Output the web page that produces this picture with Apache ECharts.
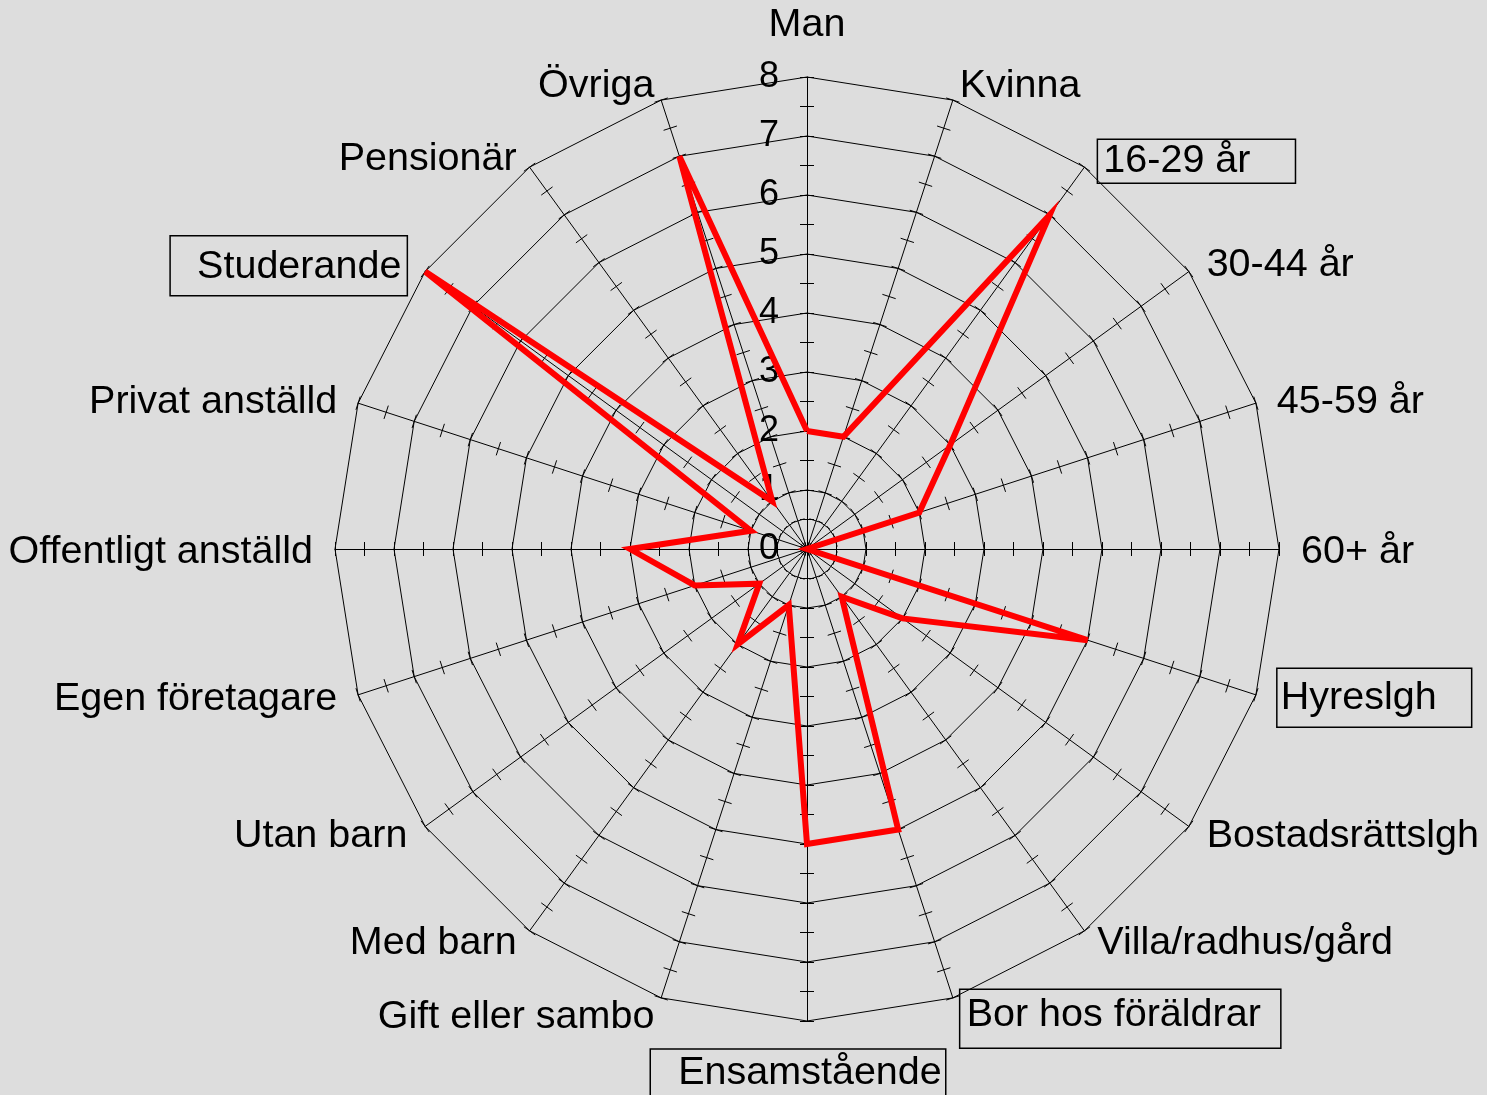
<!DOCTYPE html>
<html><head><meta charset="utf-8">
<script src="https://cdn.jsdelivr.net/npm/echarts@6/dist/echarts.min.js"></script>
<style>html,body{margin:0;padding:0;background:#dddddd}#c{width:1487px;height:1095px}</style>
</head><body><div id="c"></div><script>
// Categories clockwise from the top
const categories = ['Man','Kvinna','16-29 år','30-44 år','45-59 år','60+ år','Hyreslgh','Bostadsrättslgh','Villa/radhus/gård','Bor hos föräldrar','Ensamstående','Gift eller sambo','Med barn','Utan barn','Egen företagare','Offentligt anställd','Privat anställd','Studerande','Pensionär','Övriga'];
const values = [2,2,7,3,2,0,5,2,1,5,5,1,2,1,2,3,1,8,1,7];
const boxedNames = ['16-29 år','Hyreslgh','Bor hos föräldrar','Ensamstående','Studerande'];
const tickLabels = ['0','1','2','3','4','5','6','7','8'];
const axisMin = 0, axisMax = 8;

// ---- styling / layout (not data) ----
const FONT = "'Liberation Sans', Arial, sans-serif";
const NAME_SIZE = 39.5;
const center = [807, 549];
const radius = 472;
// vertical nudge of each axis name in px (+ = down)
const nameNudge = {
  'Man': -10, 'Kvinna': 7, '16-29 år': 12, '30-44 år': 6, '45-59 år': 6, '60+ år': 3,
  'Hyreslgh': -4, 'Bostadsrättslgh': -3, 'Villa/radhus/gård': -6, 'Bor hos föräldrar': 0,
  'Ensamstående': 6, 'Gift eller sambo': -2, 'Med barn': -6, 'Utan barn': -3,
  'Egen företagare': -3, 'Offentligt anställd': 3, 'Privat anställd': 6,
  'Studerande': 7, 'Pensionär': 10, 'Övriga': 7
};
const boxStyle = (pad) => ({ fontSize: NAME_SIZE, fontFamily: FONT, color: '#000', borderColor: '#000', borderWidth: 1.5, padding: pad });
const rich = {
  t: { fontSize: NAME_SIZE, fontFamily: FONT, color: '#000' },
  sx: { fontSize: 1, width: 18, fontFamily: FONT },
  '16-29 år': boxStyle([2, 45, 2, 6]),
  'Hyreslgh': boxStyle([10, 35, 9, 4]),
  'Bor hos föräldrar': boxStyle([6, 20, 13, 7]),
  'Ensamstående': boxStyle([4, 4, 18, 28]),
  'Studerande': boxStyle([11, 6, 9, 27])
};
const boxKey = {};
boxedNames.forEach((n, k) => { boxKey[n] = 'b' + k; rich['b' + k] = rich[n]; });
boxedNames.forEach(n => { delete rich[n]; });
function spacer(h) {
  const k = 's' + h;
  if (!rich[k]) rich[k] = { fontSize: 1, lineHeight: h, fontFamily: FONT };
  return '{' + k + '| }';
}
const nameText = {};
categories.forEach((name, i) => {
  let body = boxedNames.includes(name) ? '{' + boxKey[name] + '|' + name + '}' : '{t|' + name + '}';
  if (name === 'Ensamstående') body += '{sx| }';
  const d = nameNudge[name] || 0;
  const vAlign = i === 0 ? 'bottom' : (i === categories.length / 2 ? 'top' : 'middle');
  const h = vAlign === 'middle' ? 2 * Math.abs(d) : Math.abs(d);
  if (d > 0) body = spacer(h) + '\n' + body;
  else if (d < 0) body = body + '\n' + spacer(h);
  nameText[name] = body;
});

// ECharts radar runs counter-clockwise: reorder so it reads clockwise
const order = [0].concat(categories.map((_, i) => i).slice(1).reverse());
const indicators = order.map(i => ({ name: categories[i], min: axisMin, max: axisMax }));
const seriesValues = order.map(i => values[i]);

const chart = echarts.init(document.getElementById('c'), null, { renderer: 'canvas' });
chart.setOption({
  backgroundColor: '#dddddd',
  animation: false,
  radar: [
    {
      center, radius, startAngle: 90, shape: 'polygon', splitNumber: 16,
      indicator: indicators,
      nameGap: 22,
      axisName: {
        color: '#000', fontSize: NAME_SIZE, fontFamily: FONT,
        formatter: (name) => nameText[name],
        rich
      },
      axisLine: { show: true, lineStyle: { color: '#000', width: 1 } },
      splitLine: { show: true, lineStyle: { color: ['#000', 'rgba(0,0,0,0)'], width: 1 } },
      splitArea: { show: false },
      axisTick: { show: true, length: 7, lineStyle: { color: '#000', width: 1 } },
      axisLabel: { show: false }
    },
    {
      center, radius, startAngle: 90, shape: 'polygon', splitNumber: 16,
      indicator: indicators,
      axisName: { show: false },
      axisLine: { show: false },
      splitLine: { show: false },
      splitArea: { show: false },
      axisTick: { show: true, length: -7, lineStyle: { color: '#000', width: 1 } },
      axisLabel: { show: false }
    },
    {
      center, radius, startAngle: 90, shape: 'polygon', splitNumber: 16,
      indicator: [{ name: '', min: axisMin, max: axisMax }],
      axisName: { show: false },
      axisLine: { show: false },
      splitLine: { show: false },
      splitArea: { show: false },
      axisTick: { show: false },
      axisLabel: {
        show: true, color: '#000', fontSize: 36, fontFamily: FONT, margin: 28,
        formatter: (v) => Number.isInteger(v) ? tickLabels[v] : ''
      }
    }
  ],
  series: [{
    type: 'radar',
    radarIndex: 0,
    symbol: 'none',
    lineStyle: { color: '#ff0000', width: 6, join: 'miter' },
    itemStyle: { color: '#ff0000' },
    data: [{ value: seriesValues, name: 'Andel' }]
  }]
});
</script></body></html>
